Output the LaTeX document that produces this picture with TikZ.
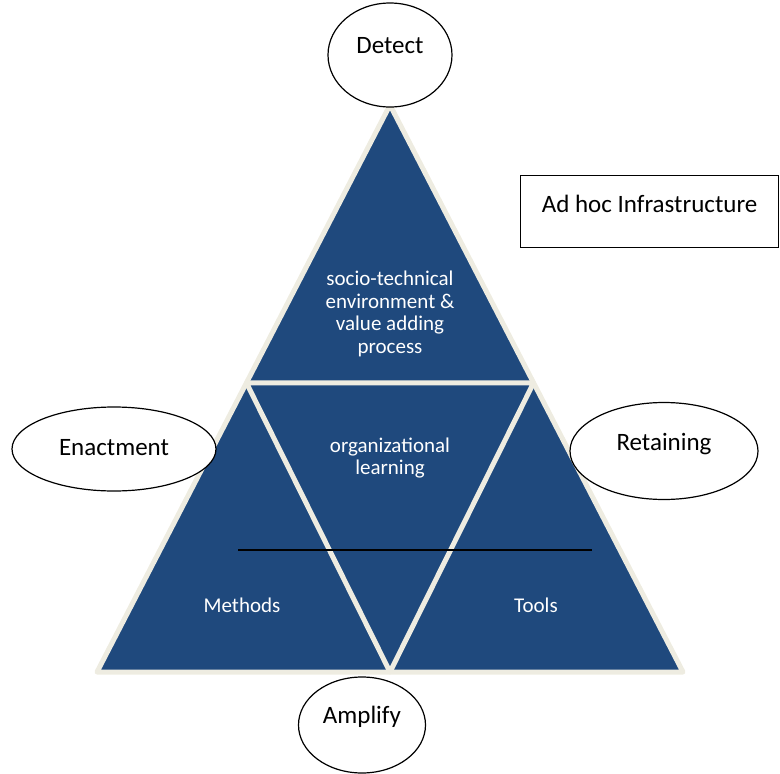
\documentclass[tikz,border=0pt]{standalone}
\usepackage{fontspec}
\setmainfont{Carlito}
\usetikzlibrary{shapes.geometric,calc}
\definecolor{pyrblue}{HTML}{1F497D}
\definecolor{pyrcream}{HTML}{EEECE1}

\begin{document}
\begin{tikzpicture}[x=1pt,y=-1pt,
  phase/.style={ellipse,draw=black,line width=1.2pt,fill=white,inner sep=0pt,
    text height=17pt,font=\fontsize{25}{30}\selectfont},
  inside/.style={text=white,align=center,font=\fontsize{21}{22.5}\selectfont}]
\useasboundingbox (0,0) rectangle (780,774);
\coordinate (top) at (390,105);
\coordinate (left) at (97,672);
\coordinate (right) at (683,672);
\coordinate (bottom) at (390,672);
\coordinate (ml) at ($(top)!0.49!(left)$);
\coordinate (mr) at ($(top)!0.49!(right)$);
\draw[pyrcream,line width=5pt,line join=round,fill=pyrblue] (top) -- (right) -- (left) -- cycle;
\draw[pyrcream,line width=5pt,line join=round] (ml) -- (mr) -- (bottom) -- cycle;
\coordinate (cutl) at (238,550);
\coordinate (cutr) at (592,550);
\draw[line width=1.3pt] (cutl) -- (cutr);

\node[inside] (env) at (390,314) {socio-technical\\environment \&\\value adding\\process};
\node[inside] (learn) at (390,458) {organizational\\learning};
\node[inside] (methods) at (242,605) {Methods};
\node[inside] (tools) at (536,605) {Tools};

\node[phase,minimum width=124pt,minimum height=104pt,text depth=21pt] (detect) at (390,55) {Detect};
\node[phase,minimum width=204pt,minimum height=84pt,text depth=5pt] (enact) at (114,449) {Enactment};
\node[phase,minimum width=188pt,minimum height=97pt,text depth=19pt] (retain) at (664,451) {Retaining};
\node[phase,minimum width=127pt,minimum height=96pt,text depth=21pt] (amplify) at (362,725) {Amplify};

\node[draw=black,line width=1.2pt,anchor=north west,minimum width=258pt,minimum height=72pt,
  text height=17pt,text depth=15pt,font=\fontsize{25}{30}\selectfont] (infra) at (520,175) {Ad hoc Infrastructure};
\end{tikzpicture}
\end{document}
